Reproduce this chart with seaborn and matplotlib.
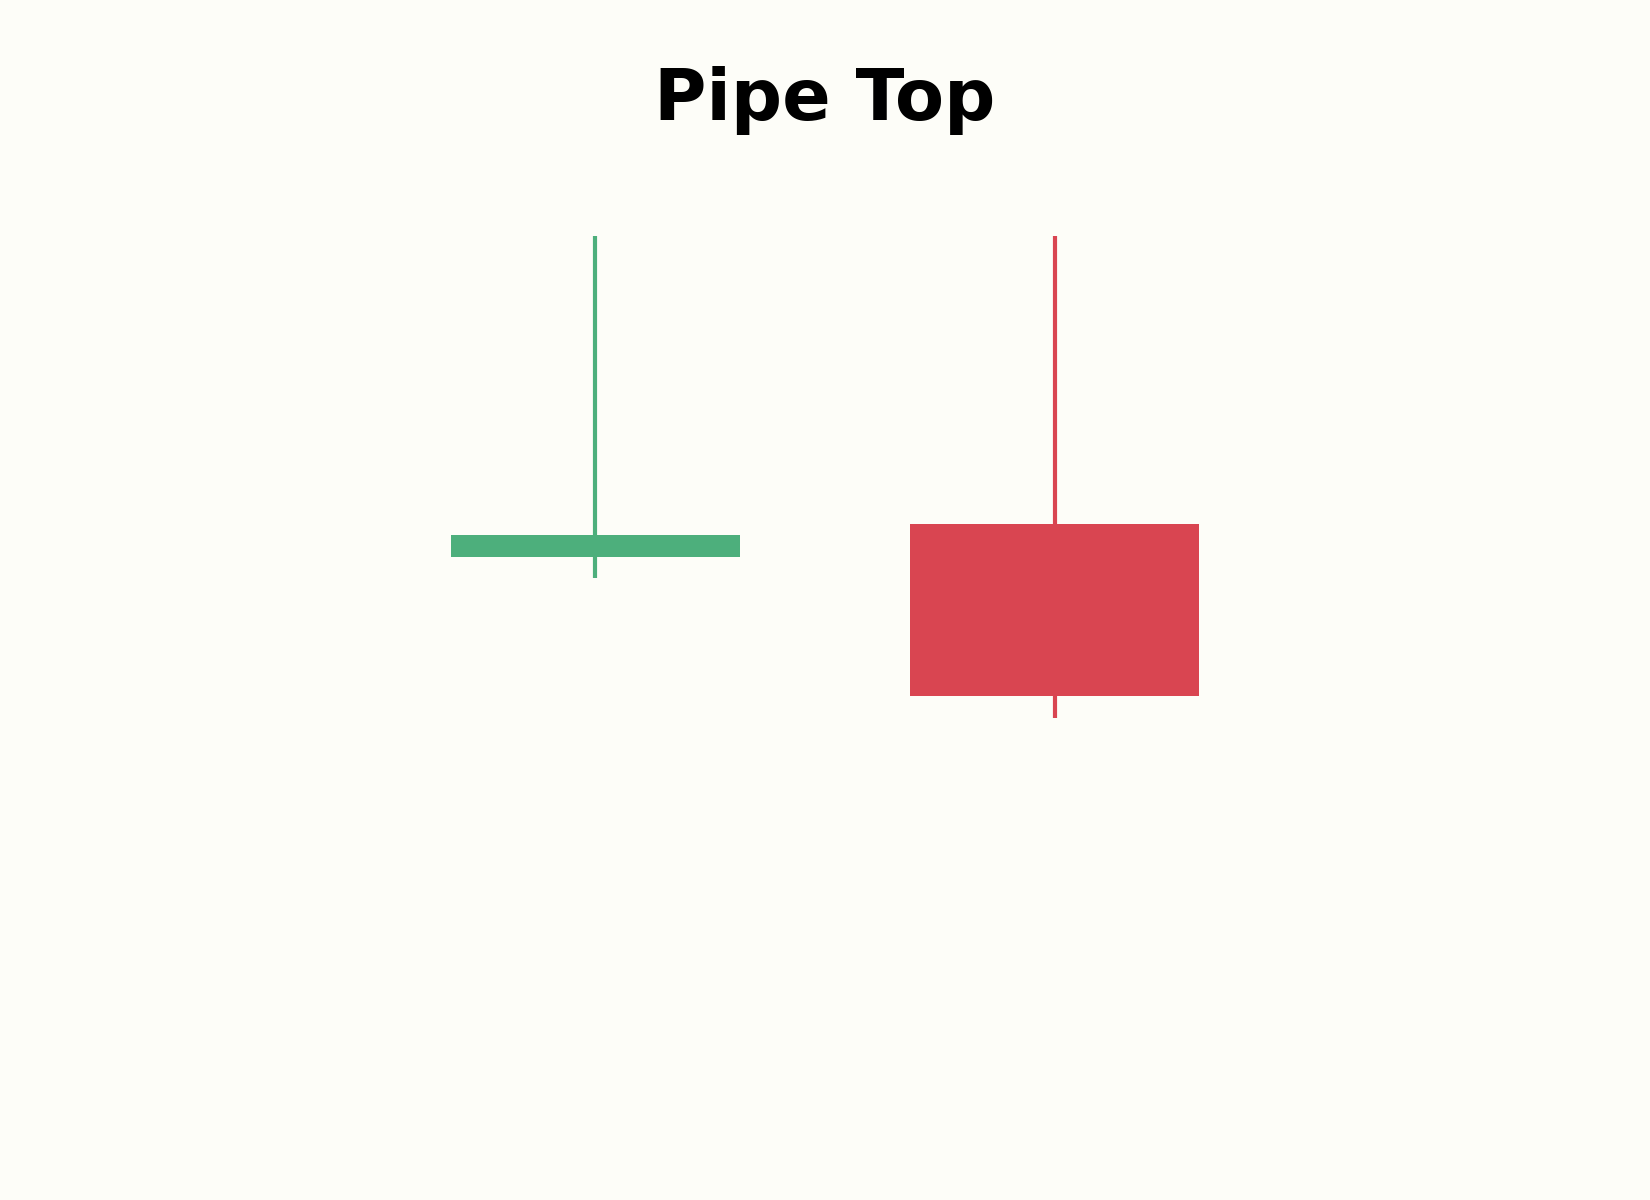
import numpy as np
import pandas as pd
import seaborn as sns
import matplotlib
matplotlib.use("Agg")
import matplotlib.pyplot as plt

# two candles of the pattern
candles = ["c1", "c2"]
opens = [106.95, 108.6]
closes = [108.05, 100.0]
highs = [123.0, 123.0]
lows = [105.9, 98.9]

up_color = "#4DAF7C"
down_color = "#D94551"
bg = "#FDFDF8"

df = pd.DataFrame({"candle": candles, "open": opens, "close": closes,
                   "high": highs, "low": lows})
df["x"] = np.arange(len(df))
df["bottom"] = df[["open", "close"]].min(axis=1)
df["body"] = (df["close"] - df["open"]).abs()
df["color"] = np.where(df["close"] >= df["open"], up_color, down_color)

sns.set_theme(style="white", rc={"figure.facecolor": bg, "axes.facecolor": bg})
plt.rcParams["font.family"] = ["DejaVu Sans"]

fig = plt.figure(figsize=(16.5, 12), dpi=100)
ax = fig.add_axes([0, 0, 1, 1])

ax.vlines(df["x"], df["low"], df["high"], colors=df["color"], linewidth=3, zorder=1)
ax.bar(df["x"], df["body"], bottom=df["bottom"], width=0.63,
       color=df["color"], linewidth=0, zorder=2)

ax.set_xlim(-1.297, 2.297)
ax.set_ylim(74.8, 134.8)
ax.set_axis_off()

fig.text(0.5, 1 - 120 / 1200, "Pipe Top", ha="center", va="baseline",
         fontsize=51.5, fontweight="bold", color="black")

fig.savefig("out.png", dpi=100, facecolor=bg)
